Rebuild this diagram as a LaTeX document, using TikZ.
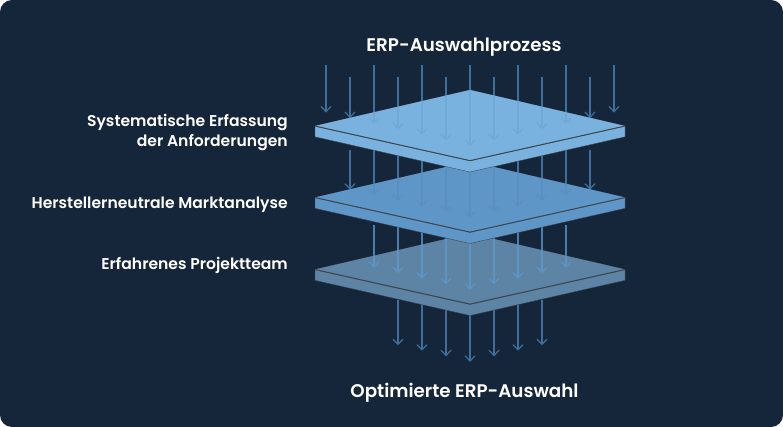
\documentclass[tikz,border=0pt]{standalone}
\usepackage{fontspec}
\setmainfont{Poppins}[UprightFont={* Medium},BoldFont={* SemiBold}]
\definecolor{bgc}{HTML}{15263A}
\definecolor{arrowc}{HTML}{3F6F9C}
\definecolor{arrowm}{HTML}{4A7FAF}
\definecolor{onA}{HTML}{70A8D7}
\definecolor{onB}{HTML}{5A90C1}
\definecolor{onC}{HTML}{5E94C4}
\definecolor{plateA}{HTML}{7AB2DF}
\definecolor{plateB}{HTML}{5F96C8}
\definecolor{plateC}{HTML}{5D83A5}
\definecolor{rimc}{HTML}{3E444B}
\tikzset{
  arrowline/.style={line width=1.2pt,line cap=butt,line join=miter},
  lab/.style={text=white,font=\bfseries\fontsize{15.6}{20}\selectfont,inner sep=0pt,align=right,anchor=east},
  titlelab/.style={text=white,font=\bfseries\fontsize{18.3}{20}\selectfont,inner sep=0pt,anchor=center},
  seam/.style={draw=rimc,line width=.9pt,line join=miter},
  rim/.style={draw=rimc,line width=.35pt,line join=miter}
}
% #1 x, #2 tip at centre, #3 start, #4 colour
\newcommand{\stagearrow}[4]{%
  \pgfmathsetmacro{\tipy}{#2-abs(#1-470)*0.2315}%
  \coordinate (s#1) at (#1,#3);
  \coordinate (t#1) at (#1,\tipy);
  \draw[arrowline,draw=#4] (s#1) -- (t#1);
  \draw[arrowline,draw=#4] ($(t#1)+(-5,-5.2)$) -- (t#1) -- ($(t#1)+(5,-5.2)$);
}
% #1 name, #2 y of left/right corners, #3 colour
\newcommand{\plate}[3]{%
  \pgfmathsetmacro{\ya}{#2-36}\pgfmathsetmacro{\yb}{#2+34.6}%
  \pgfmathsetmacro{\yc}{#2+10.8}\pgfmathsetmacro{\yd}{#2+46}%
  \coordinate (#1N) at (470,\ya);
  \coordinate (#1E) at (625,#2);
  \coordinate (#1S) at (470,\yb);
  \coordinate (#1W) at (315,#2);
  \coordinate (#1EL) at (625,\yc);
  \coordinate (#1SL) at (470,\yd);
  \coordinate (#1WL) at (315,\yc);
  \path[rim,fill=#3] (#1W) -- (#1N) -- (#1E) -- (#1EL) -- (#1SL) -- (#1WL) -- cycle;
  \draw[seam] (#1W) -- (#1S) -- (#1E);
}
% repaint a plate's top face so that arrows redrawn on it have no dark fringe
\newcommand{\topface}[2]{\fill[#2] (#1W) -- (#1N) -- (#1E) -- (#1S) -- cycle;}
\usetikzlibrary{calc}
\begin{document}
\begin{tikzpicture}[x=1pt,y=-1pt]
\useasboundingbox (0,0) rectangle (783,427);
\fill[white] (0,0) rectangle (783,427);
\fill[bgc,rounded corners=12pt] (0,0) rectangle (783,427);

% stage 4
\foreach \x in {398,422,...,542} {\stagearrow{\x}{361}{300}{arrowc}}
\plate{c}{269.5}{plateC}

% stage 3
\foreach \x in {374,398,...,566} {\stagearrow{\x}{289}{225}{arrowm}}
\topface{c}{plateC}
\begin{scope}
  \clip (cW) -- (cN) -- (cE) -- (cS) -- cycle;
  \foreach \x in {374,398,...,566} {\stagearrow{\x}{289}{225}{onC}}
\end{scope}
\draw[seam] (cW) -- (cS) -- (cE);
\plate{b}{197.5}{plateB}

% stage 2
\foreach \x in {350,374,...,590} {\stagearrow{\x}{216.7}{150}{arrowc}}
\topface{b}{plateB}
\begin{scope}
  \clip (bW) -- (bN) -- (bE) -- (bS) -- cycle;
  \foreach \x in {350,374,...,590} {\stagearrow{\x}{216.7}{150}{onB}}
\end{scope}
\draw[seam] (bW) -- (bS) -- (bE);
\plate{a}{126}{plateA}

% stage 1
\foreach \x/\st in {326/65,350/77,374/65,398/77,422/65,446/77,470/65,494/77,518/65,542/77,566/65,590/77,614/65} {\stagearrow{\x}{145}{\st}{arrowc}}
\topface{a}{plateA}
\begin{scope}
  \clip (aW) -- (aN) -- (aE) -- (aS) -- cycle;
  \foreach \x/\st in {326/65,350/77,374/65,398/77,422/65,446/77,470/65,494/77,518/65,542/77,566/65,590/77,614/65} {\stagearrow{\x}{145}{\st}{onA}}
\end{scope}
\draw[seam] (aW) -- (aS) -- (aE);

% labels
\node[titlelab] (title) at (464,47) {ERP-Auswahlprozess};
\node[titlelab] (result) at (464.5,393) {Optimierte ERP-Auswahl};
\node[lab] (l1) at (288,133) {Systematische Erfassung\\der Anforderungen};
\node[lab] (l2) at (288,205) {Herstellerneutrale Marktanalyse};
\node[lab] (l3) at (288,265) {Erfahrenes Projektteam};
\end{tikzpicture}
\end{document}
